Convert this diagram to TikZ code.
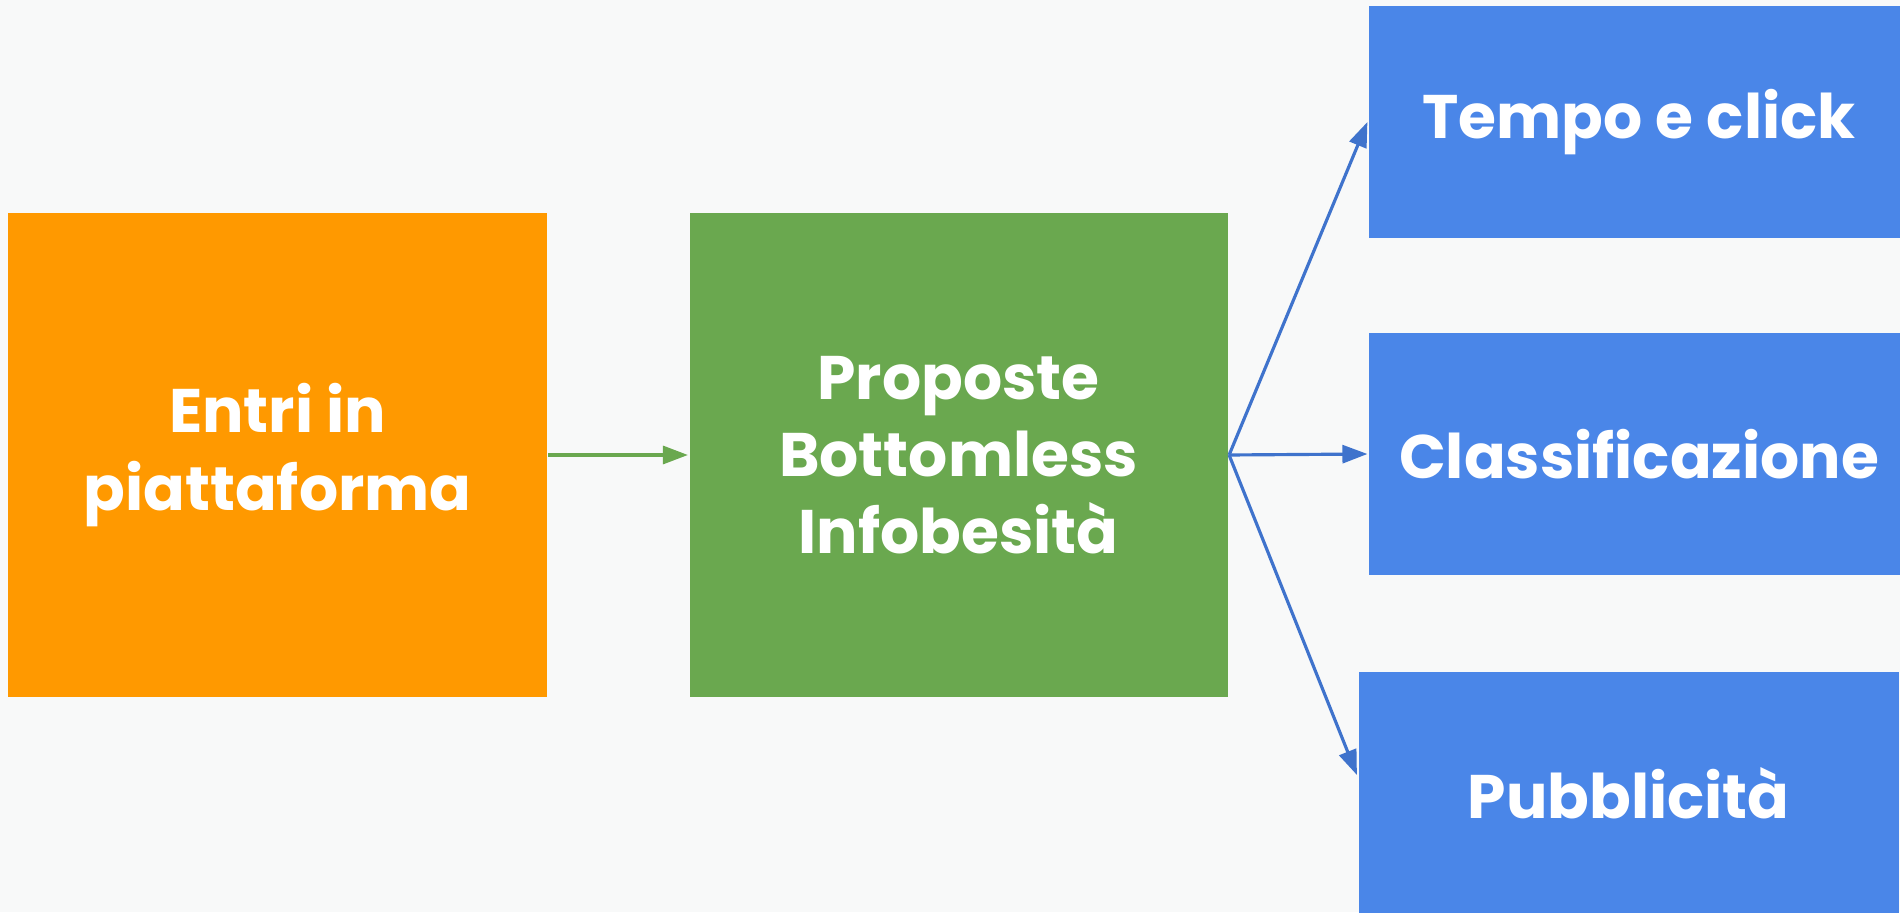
\documentclass[tikz,border=0pt]{standalone}
\usepackage{fontspec}
\setmainfont{Poppins}
\usepackage{xcolor}
\usetikzlibrary{arrows.meta,positioning}

\definecolor{sfondo}{HTML}{F8F9F9}
\definecolor{arancio}{HTML}{FF9900}
\definecolor{verde}{HTML}{6AA84F}
\definecolor{blu}{HTML}{4A86E8}
\definecolor{bluscuro}{HTML}{3F73CC}

\tikzset{
  box/.style={text=white, align=center, inner sep=0pt, minimum width=5.38cm},
}

\begin{document}
\begin{tikzpicture}[auto, >={Triangle[length=2.5mm, width=1.8mm]}, line width=0.9pt,
    font=\bfseries\fontsize{17.5}{22}\selectfont]

  % Background
  \fill[sfondo] (0,0) rectangle (19,9.12);
  \useasboundingbox (0,0) rectangle (19,9.12);

  % Define coordinates for nodes
  \node[box, fill=arancio, minimum height=4.84cm] (entri) at (2.775, 4.57) {Entri in\\piattaforma};
  \node[box, fill=verde, minimum height=4.84cm] (proposte) at (9.585, 4.57) {Proposte\\Bottomless\\Infobesità};
  \node[box, fill=blu, minimum width=5.40cm, minimum height=2.315cm] (tempo) at (16.39, 7.90) {Tempo e click};
  \node[box, fill=blu, minimum width=5.40cm, minimum height=2.425cm] (classi) at (16.39, 4.58) {Classificazione};
  \node[box, fill=blu, minimum width=5.40cm, minimum height=2.42cm] (pubbli) at (16.285, 1.19) {Pubblicità};

  % Draw arrows between nodes
  \draw[->, verde] (entri) to (proposte);
  \draw[->, bluscuro] (proposte.east) to (tempo.west);
  \draw[->, bluscuro] (proposte.east) to (classi.west);
  \draw[->, bluscuro] (proposte.east) to ([yshift=1.8mm]pubbli.west);

\end{tikzpicture}
\end{document}
